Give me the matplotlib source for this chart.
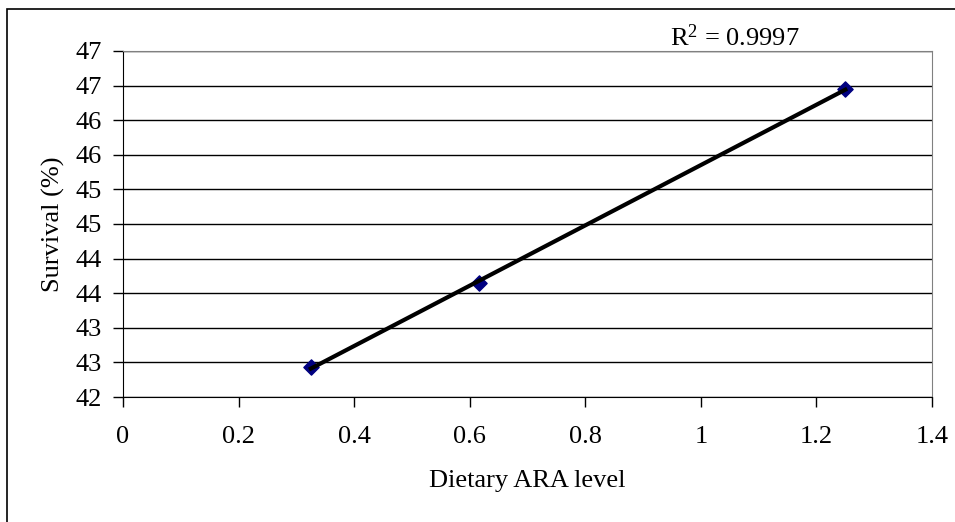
import numpy as np
import matplotlib.pyplot as plt
from matplotlib.patches import Rectangle
from matplotlib.ticker import FuncFormatter, MultipleLocator

# data
ara_level = [0.325, 0.616, 1.25]
survival = [42.43, 43.65, 46.45]
r2_text = 'R$^2$ = 0.9997'

plt.rcParams['font.family'] = ['Liberation Serif', 'DejaVu Serif']
plt.rcParams['font.size'] = 19
plt.rcParams['mathtext.fontset'] = 'custom'
plt.rcParams['mathtext.rm'] = 'Liberation Serif'
plt.rcParams['mathtext.it'] = 'Liberation Serif'
plt.rcParams['mathtext.default'] = 'regular'

fig = plt.figure(figsize=(9.55, 5.22), dpi=100)

# outer chart border (cropped at right and bottom)
fig.patches.append(Rectangle((7 / 955, -0.1), 1.2, 1 - 9 / 522 + 0.1,
                             transform=fig.transFigure, fill=False,
                             edgecolor='black', linewidth=1.2))

ax = fig.add_axes([123 / 955, 1 - 397 / 522, (932 - 123) / 955, (397 - 51) / 522])

ax.scatter(ara_level, survival, marker='D', s=60, color='#000080', zorder=3)

# linear trendline
k, b = np.polyfit(ara_level, survival, 1)
xs = np.array([min(ara_level), max(ara_level)])
ax.plot(xs, k * xs + b, color='black', linewidth=3, zorder=4)

ax.set_xlim(0, 1.4)
ax.set_ylim(42, 47)
ax.xaxis.set_major_locator(MultipleLocator(0.2))
ax.yaxis.set_major_locator(MultipleLocator(0.5))
ax.xaxis.set_major_formatter(FuncFormatter(lambda v, p: f'{v:.1f}'.rstrip('0').rstrip('.') if v else '0'))
ax.yaxis.set_major_formatter(FuncFormatter(lambda v, p: str(int(np.floor(v + 0.5)))))

ax.grid(axis='y', color='black', linewidth=1)
ax.set_axisbelow(True)
for side in ['top', 'right']:
    ax.spines[side].set_color('#808080')
ax.spines['left'].set_color('black')
ax.spines['bottom'].set_color('black')
ax.tick_params(direction='out', length=7, width=1, pad=8)
ax.tick_params(axis='x', pad=14)

ax.set_xlabel('Dietary ARA level', labelpad=16)
ax.set_ylabel('Survival (%)', labelpad=8)

ax.text(735 / 955, 1 - 38 / 522, r2_text, transform=fig.transFigure,
        ha='center', va='center', fontsize=19)

plt.savefig('out.png', dpi=100)
